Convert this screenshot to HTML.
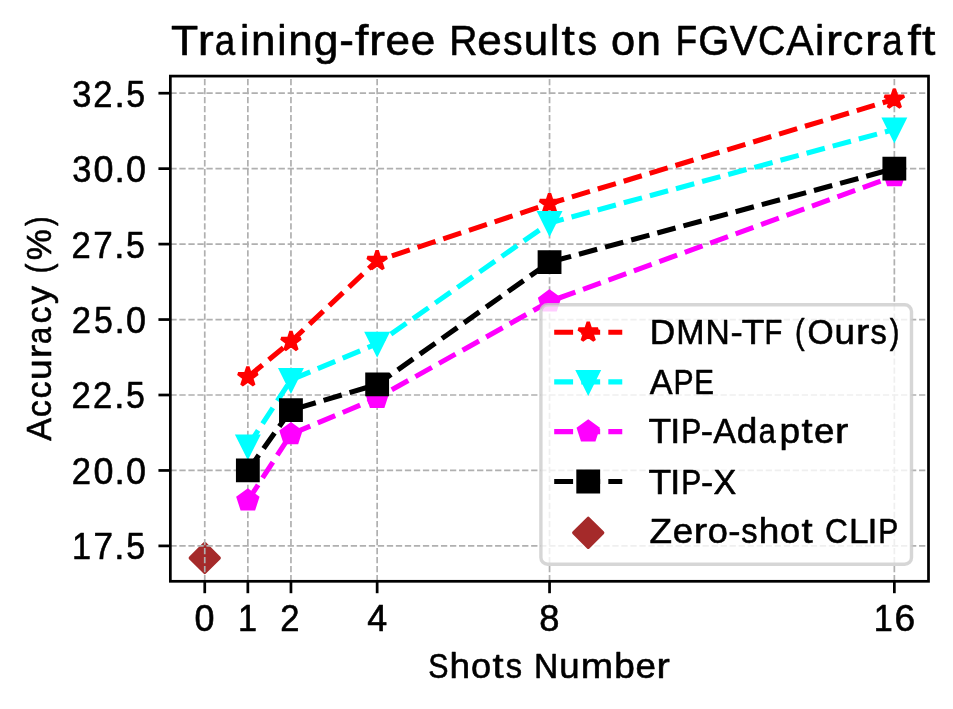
<!DOCTYPE html>
<html><head><meta charset="utf-8"><title>Training-free Results on FGVCAircraft</title>
<style>html,body{margin:0;padding:0;background:#fff;}svg{display:block;will-change:transform;transform:translateZ(0);}text{font-family:"Liberation Sans",sans-serif;fill:#000;stroke:#000;stroke-width:0.6px;stroke-linejoin:round;}</style></head><body>
<svg width="953" height="709" viewBox="0 0 953 709">
<rect x="0" y="0" width="953" height="709" fill="#ffffff"/>
<g id="zero"><polygon points="204.75,543.54 219.19,557.97 204.75,572.41 190.31,557.97" fill="#a52a2a" stroke="#a52a2a" stroke-width="3.40" stroke-linejoin="round"/></g>
<g id="grid" stroke="#b0b0b0" stroke-width="1.70" stroke-dasharray="6.30 2.72" fill="none"><line x1="204.75" y1="581.30" x2="204.75" y2="76.10"/><line x1="247.85" y1="581.30" x2="247.85" y2="76.10"/><line x1="290.95" y1="581.30" x2="290.95" y2="76.10"/><line x1="377.15" y1="581.30" x2="377.15" y2="76.10"/><line x1="549.55" y1="581.30" x2="549.55" y2="76.10"/><line x1="894.35" y1="581.30" x2="894.35" y2="76.10"/><line x1="170.35" y1="545.90" x2="928.50" y2="545.90"/><line x1="170.35" y1="470.45" x2="928.50" y2="470.45"/><line x1="170.35" y1="395.00" x2="928.50" y2="395.00"/><line x1="170.35" y1="319.55" x2="928.50" y2="319.55"/><line x1="170.35" y1="244.10" x2="928.50" y2="244.10"/><line x1="170.35" y1="168.65" x2="928.50" y2="168.65"/><line x1="170.35" y1="93.20" x2="928.50" y2="93.20"/></g>
<g id="dmn"><polyline points="247.85,376.89 290.95,341.58 377.15,260.70 549.55,203.66 894.35,99.24" fill="none" stroke="#ff0000" stroke-width="5.10" stroke-dasharray="18.89 8.17" stroke-linejoin="round"/>
<polygon points="247.85,366.68 245.56,373.74 238.14,373.74 244.14,378.10 241.85,385.15 247.85,380.79 253.85,385.15 251.56,378.10 257.56,373.74 250.14,373.74" fill="#ff0000" stroke="#ff0000" stroke-width="3.40" stroke-linejoin="bevel" stroke-miterlimit="10"/>
<polygon points="290.95,331.37 288.66,338.43 281.24,338.43 287.24,342.79 284.95,349.84 290.95,345.48 296.95,349.84 294.66,342.79 300.66,338.43 293.24,338.43" fill="#ff0000" stroke="#ff0000" stroke-width="3.40" stroke-linejoin="bevel" stroke-miterlimit="10"/>
<polygon points="377.15,250.49 374.86,257.54 367.44,257.54 373.44,261.90 371.15,268.96 377.15,264.60 383.15,268.96 380.86,261.90 386.86,257.54 379.44,257.54" fill="#ff0000" stroke="#ff0000" stroke-width="3.40" stroke-linejoin="bevel" stroke-miterlimit="10"/>
<polygon points="549.55,193.45 547.26,200.50 539.84,200.50 545.84,204.86 543.55,211.92 549.55,207.56 555.55,211.92 553.26,204.86 559.26,200.50 551.84,200.50" fill="#ff0000" stroke="#ff0000" stroke-width="3.40" stroke-linejoin="bevel" stroke-miterlimit="10"/>
<polygon points="894.35,89.03 892.06,96.08 884.64,96.08 890.64,100.44 888.35,107.49 894.35,103.14 900.35,107.49 898.06,100.44 904.06,96.08 896.64,96.08" fill="#ff0000" stroke="#ff0000" stroke-width="3.40" stroke-linejoin="bevel" stroke-miterlimit="10"/>
</g>
<g id="ape"><polyline points="247.85,446.31 290.95,379.91 377.15,343.69 549.55,222.97 894.35,129.42" fill="none" stroke="#00ffff" stroke-width="5.10" stroke-dasharray="18.89 8.17" stroke-linejoin="round"/>
<polygon points="237.64,436.10 258.06,436.10 247.85,456.51" fill="#00ffff" stroke="#00ffff" stroke-width="3.40" stroke-linejoin="miter" stroke-miterlimit="10"/>
<polygon points="280.74,369.70 301.16,369.70 290.95,390.12" fill="#00ffff" stroke="#00ffff" stroke-width="3.40" stroke-linejoin="miter" stroke-miterlimit="10"/>
<polygon points="366.94,333.49 387.36,333.49 377.15,353.90" fill="#00ffff" stroke="#00ffff" stroke-width="3.40" stroke-linejoin="miter" stroke-miterlimit="10"/>
<polygon points="539.34,212.77 559.76,212.77 549.55,233.18" fill="#00ffff" stroke="#00ffff" stroke-width="3.40" stroke-linejoin="miter" stroke-miterlimit="10"/>
<polygon points="884.14,119.21 904.56,119.21 894.35,139.62" fill="#00ffff" stroke="#00ffff" stroke-width="3.40" stroke-linejoin="miter" stroke-miterlimit="10"/>
</g>
<g id="tip"><polyline points="247.85,500.63 290.95,434.23 377.15,398.02 549.55,301.44 894.35,176.19" fill="none" stroke="#ff00ff" stroke-width="5.10" stroke-dasharray="18.89 8.17" stroke-linejoin="round"/>
<polygon points="247.85,490.42 238.14,497.48 241.85,508.89 253.85,508.89 257.56,497.48" fill="#ff00ff" stroke="#ff00ff" stroke-width="3.40" stroke-linejoin="miter" stroke-miterlimit="10"/>
<polygon points="290.95,424.03 281.24,431.08 284.95,442.49 296.95,442.49 300.66,431.08" fill="#ff00ff" stroke="#ff00ff" stroke-width="3.40" stroke-linejoin="miter" stroke-miterlimit="10"/>
<polygon points="377.15,387.81 367.44,394.86 371.15,406.28 383.15,406.28 386.86,394.86" fill="#ff00ff" stroke="#ff00ff" stroke-width="3.40" stroke-linejoin="miter" stroke-miterlimit="10"/>
<polygon points="549.55,291.23 539.84,298.29 543.55,309.70 555.55,309.70 559.26,298.29" fill="#ff00ff" stroke="#ff00ff" stroke-width="3.40" stroke-linejoin="miter" stroke-miterlimit="10"/>
<polygon points="894.35,165.99 884.64,173.04 888.35,184.45 900.35,184.45 904.06,173.04" fill="#ff00ff" stroke="#ff00ff" stroke-width="3.40" stroke-linejoin="miter" stroke-miterlimit="10"/>
</g>
<g id="tipx"><polyline points="247.85,470.45 290.95,410.09 377.15,384.44 549.55,262.21 894.35,168.65" fill="none" stroke="#000000" stroke-width="5.10" stroke-dasharray="18.89 8.17" stroke-linejoin="round"/>
<polygon points="237.64,460.24 258.06,460.24 258.06,480.66 237.64,480.66" fill="#000000" stroke="#000000" stroke-width="3.40" stroke-linejoin="miter" stroke-miterlimit="10"/>
<polygon points="280.74,399.88 301.16,399.88 301.16,420.30 280.74,420.30" fill="#000000" stroke="#000000" stroke-width="3.40" stroke-linejoin="miter" stroke-miterlimit="10"/>
<polygon points="366.94,374.23 387.36,374.23 387.36,394.65 366.94,394.65" fill="#000000" stroke="#000000" stroke-width="3.40" stroke-linejoin="miter" stroke-miterlimit="10"/>
<polygon points="539.34,252.00 559.76,252.00 559.76,272.42 539.34,272.42" fill="#000000" stroke="#000000" stroke-width="3.40" stroke-linejoin="miter" stroke-miterlimit="10"/>
<polygon points="884.14,158.44 904.56,158.44 904.56,178.86 884.14,178.86" fill="#000000" stroke="#000000" stroke-width="3.40" stroke-linejoin="miter" stroke-miterlimit="10"/>
</g>
<rect x="170.35" y="76.10" width="758.15" height="505.20" fill="none" stroke="#000" stroke-width="2.72" stroke-linejoin="miter"/>
<g id="ticks" stroke="#000" stroke-width="2.72"><line x1="204.75" y1="581.30" x2="204.75" y2="593.21"/><line x1="247.85" y1="581.30" x2="247.85" y2="593.21"/><line x1="290.95" y1="581.30" x2="290.95" y2="593.21"/><line x1="377.15" y1="581.30" x2="377.15" y2="593.21"/><line x1="549.55" y1="581.30" x2="549.55" y2="593.21"/><line x1="894.35" y1="581.30" x2="894.35" y2="593.21"/><line x1="170.35" y1="545.90" x2="158.44" y2="545.90"/><line x1="170.35" y1="470.45" x2="158.44" y2="470.45"/><line x1="170.35" y1="395.00" x2="158.44" y2="395.00"/><line x1="170.35" y1="319.55" x2="158.44" y2="319.55"/><line x1="170.35" y1="244.10" x2="158.44" y2="244.10"/><line x1="170.35" y1="168.65" x2="158.44" y2="168.65"/><line x1="170.35" y1="93.20" x2="158.44" y2="93.20"/></g>
<text transform="translate(0,55.20)" font-size="42.88" y="0"><tspan x="171.06" textLength="27.20" lengthAdjust="spacingAndGlyphs">T</tspan><tspan x="197.65" textLength="15.99" lengthAdjust="spacingAndGlyphs">r</tspan><tspan x="214.81" textLength="20.42" lengthAdjust="spacingAndGlyphs">a</tspan><tspan x="239.99" textLength="9.27" lengthAdjust="spacingAndGlyphs">i</tspan><tspan x="251.07" textLength="24.48" lengthAdjust="spacingAndGlyphs">n</tspan><tspan x="277.22" textLength="9.27" lengthAdjust="spacingAndGlyphs">i</tspan><tspan x="288.29" textLength="24.48" lengthAdjust="spacingAndGlyphs">n</tspan><tspan x="313.78" textLength="24.68" lengthAdjust="spacingAndGlyphs">g</tspan><tspan x="339.34" textLength="14.66" lengthAdjust="spacingAndGlyphs">-</tspan><tspan x="355.04" textLength="13.34" lengthAdjust="spacingAndGlyphs">f</tspan><tspan x="368.94" textLength="15.99" lengthAdjust="spacingAndGlyphs">r</tspan><tspan x="385.58" textLength="24.53" lengthAdjust="spacingAndGlyphs">e</tspan><tspan x="410.70" textLength="24.53" lengthAdjust="spacingAndGlyphs">e</tspan><tspan x="435.45"> </tspan><tspan x="449.23" textLength="28.20" lengthAdjust="spacingAndGlyphs">R</tspan><tspan x="477.18" textLength="24.53" lengthAdjust="spacingAndGlyphs">e</tspan><tspan x="503.05" textLength="19.57" lengthAdjust="spacingAndGlyphs">s</tspan><tspan x="523.81" textLength="24.48" lengthAdjust="spacingAndGlyphs">u</tspan><tspan x="550.11" textLength="9.27" lengthAdjust="spacingAndGlyphs">l</tspan><tspan x="561.63" textLength="13.34" lengthAdjust="spacingAndGlyphs">t</tspan><tspan x="577.55" textLength="19.57" lengthAdjust="spacingAndGlyphs">s</tspan><tspan x="597.70"> </tspan><tspan x="611.11" textLength="24.14" lengthAdjust="spacingAndGlyphs">o</tspan><tspan x="636.45" textLength="24.48" lengthAdjust="spacingAndGlyphs">n</tspan><tspan x="661.55"> </tspan><tspan x="675.66" textLength="21.38" lengthAdjust="spacingAndGlyphs">F</tspan><tspan x="698.30" textLength="30.98" lengthAdjust="spacingAndGlyphs">G</tspan><tspan x="729.79" textLength="27.64" lengthAdjust="spacingAndGlyphs">V</tspan><tspan x="757.96" textLength="27.37" lengthAdjust="spacingAndGlyphs">C</tspan><tspan x="786.34" textLength="27.44" lengthAdjust="spacingAndGlyphs">A</tspan><tspan x="815.09" textLength="9.27" lengthAdjust="spacingAndGlyphs">i</tspan><tspan x="825.90" textLength="15.99" lengthAdjust="spacingAndGlyphs">r</tspan><tspan x="842.68" textLength="20.49" lengthAdjust="spacingAndGlyphs">c</tspan><tspan x="865.14" textLength="15.99" lengthAdjust="spacingAndGlyphs">r</tspan><tspan x="882.30" textLength="20.42" lengthAdjust="spacingAndGlyphs">a</tspan><tspan x="907.43" textLength="13.34" lengthAdjust="spacingAndGlyphs">f</tspan><tspan x="922.01" textLength="13.34" lengthAdjust="spacingAndGlyphs">t</tspan></text>
<text transform="translate(0,559.30)" font-size="36.24" y="0"><tspan x="71.91" textLength="19.05" lengthAdjust="spacingAndGlyphs">1</tspan><tspan x="93.43" textLength="19.51" lengthAdjust="spacingAndGlyphs">7</tspan><tspan x="114.36" textLength="10.23" lengthAdjust="spacingAndGlyphs">.</tspan><tspan x="126.17" textLength="18.83" lengthAdjust="spacingAndGlyphs">5</tspan></text>
<text transform="translate(0,483.85)" font-size="36.24" y="0"><tspan x="71.80" textLength="19.23" lengthAdjust="spacingAndGlyphs">2</tspan><tspan x="93.54" textLength="19.95" lengthAdjust="spacingAndGlyphs">0</tspan><tspan x="114.63" textLength="10.23" lengthAdjust="spacingAndGlyphs">.</tspan><tspan x="126.01" textLength="19.95" lengthAdjust="spacingAndGlyphs">0</tspan></text>
<text transform="translate(0,408.40)" font-size="36.24" y="0"><tspan x="71.46" textLength="19.23" lengthAdjust="spacingAndGlyphs">2</tspan><tspan x="93.11" textLength="19.23" lengthAdjust="spacingAndGlyphs">2</tspan><tspan x="114.28" textLength="10.23" lengthAdjust="spacingAndGlyphs">.</tspan><tspan x="126.09" textLength="18.83" lengthAdjust="spacingAndGlyphs">5</tspan></text>
<text transform="translate(0,332.95)" font-size="36.24" y="0"><tspan x="71.75" textLength="19.23" lengthAdjust="spacingAndGlyphs">2</tspan><tspan x="93.92" textLength="18.83" lengthAdjust="spacingAndGlyphs">5</tspan><tspan x="114.58" textLength="10.23" lengthAdjust="spacingAndGlyphs">.</tspan><tspan x="125.96" textLength="19.95" lengthAdjust="spacingAndGlyphs">0</tspan></text>
<text transform="translate(0,257.50)" font-size="36.24" y="0"><tspan x="71.46" textLength="19.23" lengthAdjust="spacingAndGlyphs">2</tspan><tspan x="93.35" textLength="19.51" lengthAdjust="spacingAndGlyphs">7</tspan><tspan x="114.28" textLength="10.23" lengthAdjust="spacingAndGlyphs">.</tspan><tspan x="126.09" textLength="18.83" lengthAdjust="spacingAndGlyphs">5</tspan></text>
<text transform="translate(0,182.05)" font-size="36.24" y="0"><tspan x="72.33" textLength="19.16" lengthAdjust="spacingAndGlyphs">3</tspan><tspan x="93.54" textLength="19.95" lengthAdjust="spacingAndGlyphs">0</tspan><tspan x="114.63" textLength="10.23" lengthAdjust="spacingAndGlyphs">.</tspan><tspan x="126.01" textLength="19.95" lengthAdjust="spacingAndGlyphs">0</tspan></text>
<text transform="translate(0,106.60)" font-size="36.24" y="0"><tspan x="72.14" textLength="19.16" lengthAdjust="spacingAndGlyphs">3</tspan><tspan x="93.26" textLength="19.23" lengthAdjust="spacingAndGlyphs">2</tspan><tspan x="114.43" textLength="10.23" lengthAdjust="spacingAndGlyphs">.</tspan><tspan x="126.24" textLength="18.83" lengthAdjust="spacingAndGlyphs">5</tspan></text>
<text transform="translate(0,631.20)" font-size="36.24" y="0"><tspan x="194.58" textLength="19.95" lengthAdjust="spacingAndGlyphs">0</tspan></text>
<text transform="translate(0,631.20)" font-size="36.24" y="0"><tspan x="238.06" textLength="19.05" lengthAdjust="spacingAndGlyphs">1</tspan></text>
<text transform="translate(0,631.20)" font-size="36.24" y="0"><tspan x="280.34" textLength="19.23" lengthAdjust="spacingAndGlyphs">2</tspan></text>
<text transform="translate(0,631.20)" font-size="36.24" y="0"><tspan x="367.24" textLength="19.95" lengthAdjust="spacingAndGlyphs">4</tspan></text>
<text transform="translate(0,631.20)" font-size="36.24" y="0"><tspan x="539.32" textLength="20.17" lengthAdjust="spacingAndGlyphs">8</tspan></text>
<text transform="translate(0,631.20)" font-size="36.24" y="0"><tspan x="873.63" textLength="19.05" lengthAdjust="spacingAndGlyphs">1</tspan><tspan x="894.64" textLength="20.65" lengthAdjust="spacingAndGlyphs">6</tspan></text>
<text transform="translate(0,677.60)" font-size="35.73" y="0"><tspan x="428.31" textLength="20.23" lengthAdjust="spacingAndGlyphs">S</tspan><tspan x="449.58" textLength="20.55" lengthAdjust="spacingAndGlyphs">h</tspan><tspan x="470.97" textLength="20.12" lengthAdjust="spacingAndGlyphs">o</tspan><tspan x="492.44" textLength="11.12" lengthAdjust="spacingAndGlyphs">t</tspan><tspan x="505.71" textLength="16.31" lengthAdjust="spacingAndGlyphs">s</tspan><tspan x="522.50"> </tspan><tspan x="533.90" textLength="24.27" lengthAdjust="spacingAndGlyphs">N</tspan><tspan x="559.28" textLength="20.40" lengthAdjust="spacingAndGlyphs">u</tspan><tspan x="580.85" textLength="32.30" lengthAdjust="spacingAndGlyphs">m</tspan><tspan x="614.19" textLength="20.59" lengthAdjust="spacingAndGlyphs">b</tspan><tspan x="635.40" textLength="20.44" lengthAdjust="spacingAndGlyphs">e</tspan><tspan x="656.45" textLength="13.33" lengthAdjust="spacingAndGlyphs">r</tspan></text>
<text transform="translate(50.60,440.90) rotate(-90)" font-size="35.73" y="0"><tspan x="0.10" textLength="22.86" lengthAdjust="spacingAndGlyphs">A</tspan><tspan x="23.61" textLength="17.07" lengthAdjust="spacingAndGlyphs">c</tspan><tspan x="42.32" textLength="17.07" lengthAdjust="spacingAndGlyphs">c</tspan><tspan x="61.11" textLength="20.40" lengthAdjust="spacingAndGlyphs">u</tspan><tspan x="82.60" textLength="13.33" lengthAdjust="spacingAndGlyphs">r</tspan><tspan x="96.90" textLength="17.02" lengthAdjust="spacingAndGlyphs">a</tspan><tspan x="117.43" textLength="17.07" lengthAdjust="spacingAndGlyphs">c</tspan><tspan x="136.64" textLength="18.27" lengthAdjust="spacingAndGlyphs">y</tspan><tspan x="155.85"> </tspan><tspan x="167.78" textLength="9.64" lengthAdjust="spacingAndGlyphs">(</tspan><tspan x="180.58" textLength="31.07" lengthAdjust="spacingAndGlyphs">%</tspan><tspan x="214.81" textLength="9.64" lengthAdjust="spacingAndGlyphs">)</tspan></text>
<rect x="540.90" y="304.80" width="370.60" height="259.40" rx="6.8" ry="6.8" fill="#ffffff" fill-opacity="0.8" stroke="#cccccc" stroke-opacity="0.8" stroke-width="3.4"/>
<line x1="554.20" y1="332.20" x2="622.26" y2="332.20" stroke="#ff0000" stroke-width="5.10" stroke-dasharray="18.89 8.17"/>
<polygon points="588.23,321.99 585.94,329.05 578.52,329.05 584.52,333.40 582.23,340.46 588.23,336.10 594.23,340.46 591.94,333.40 597.94,329.05 590.52,329.05" fill="#ff0000" stroke="#ff0000" stroke-width="3.40" stroke-linejoin="bevel" stroke-miterlimit="10"/>
<line x1="554.20" y1="381.90" x2="622.26" y2="381.90" stroke="#00ffff" stroke-width="5.10" stroke-dasharray="18.89 8.17"/>
<polygon points="578.02,371.69 598.44,371.69 588.23,392.11" fill="#00ffff" stroke="#00ffff" stroke-width="3.40" stroke-linejoin="miter" stroke-miterlimit="10"/>
<line x1="554.20" y1="431.60" x2="622.26" y2="431.60" stroke="#ff00ff" stroke-width="5.10" stroke-dasharray="18.89 8.17"/>
<polygon points="588.23,421.39 578.52,428.45 582.23,439.86 594.23,439.86 597.94,428.45" fill="#ff00ff" stroke="#ff00ff" stroke-width="3.40" stroke-linejoin="miter" stroke-miterlimit="10"/>
<line x1="554.20" y1="481.50" x2="622.26" y2="481.50" stroke="#000000" stroke-width="5.10" stroke-dasharray="18.89 8.17"/>
<polygon points="578.02,471.29 598.44,471.29 598.44,491.71 578.02,491.71" fill="#000000" stroke="#000000" stroke-width="3.40" stroke-linejoin="miter" stroke-miterlimit="10"/>
<polygon points="588.23,518.36 602.67,532.80 588.23,547.24 573.79,532.80" fill="#a52a2a" stroke="#a52a2a" stroke-width="3.40" stroke-linejoin="round"/>
<text transform="translate(0,343.80)" font-size="35.73" y="0"><tspan x="649.83" textLength="25.42" lengthAdjust="spacingAndGlyphs">D</tspan><tspan x="676.13" textLength="28.26" lengthAdjust="spacingAndGlyphs">M</tspan><tspan x="705.52" textLength="24.27" lengthAdjust="spacingAndGlyphs">N</tspan><tspan x="730.42" textLength="12.22" lengthAdjust="spacingAndGlyphs">-</tspan><tspan x="741.73" textLength="22.67" lengthAdjust="spacingAndGlyphs">T</tspan><tspan x="764.40" textLength="17.82" lengthAdjust="spacingAndGlyphs">F</tspan><tspan x="783.03"> </tspan><tspan x="794.95" textLength="9.64" lengthAdjust="spacingAndGlyphs">(</tspan><tspan x="807.43" textLength="26.16" lengthAdjust="spacingAndGlyphs">O</tspan><tspan x="834.41" textLength="20.40" lengthAdjust="spacingAndGlyphs">u</tspan><tspan x="855.90" textLength="13.33" lengthAdjust="spacingAndGlyphs">r</tspan><tspan x="870.39" textLength="16.31" lengthAdjust="spacingAndGlyphs">s</tspan><tspan x="889.72" textLength="9.64" lengthAdjust="spacingAndGlyphs">)</tspan></text>
<text transform="translate(0,393.70)" font-size="35.73" y="0"><tspan x="649.66" textLength="22.86" lengthAdjust="spacingAndGlyphs">A</tspan><tspan x="673.61" textLength="20.07" lengthAdjust="spacingAndGlyphs">P</tspan><tspan x="694.17" textLength="19.67" lengthAdjust="spacingAndGlyphs">E</tspan></text>
<text transform="translate(0,443.30)" font-size="35.73" y="0"><tspan x="648.51" textLength="22.67" lengthAdjust="spacingAndGlyphs">T</tspan><tspan x="670.25" textLength="10.00" lengthAdjust="spacingAndGlyphs">I</tspan><tspan x="681.13" textLength="20.07" lengthAdjust="spacingAndGlyphs">P</tspan><tspan x="700.81" textLength="12.22" lengthAdjust="spacingAndGlyphs">-</tspan><tspan x="713.26" textLength="22.86" lengthAdjust="spacingAndGlyphs">A</tspan><tspan x="736.66" textLength="20.57" lengthAdjust="spacingAndGlyphs">d</tspan><tspan x="758.68" textLength="17.02" lengthAdjust="spacingAndGlyphs">a</tspan><tspan x="779.50" textLength="20.59" lengthAdjust="spacingAndGlyphs">p</tspan><tspan x="801.40" textLength="11.12" lengthAdjust="spacingAndGlyphs">t</tspan><tspan x="814.05" textLength="20.44" lengthAdjust="spacingAndGlyphs">e</tspan><tspan x="835.10" textLength="13.33" lengthAdjust="spacingAndGlyphs">r</tspan></text>
<text transform="translate(0,493.50)" font-size="35.73" y="0"><tspan x="648.63" textLength="22.67" lengthAdjust="spacingAndGlyphs">T</tspan><tspan x="670.37" textLength="10.00" lengthAdjust="spacingAndGlyphs">I</tspan><tspan x="681.26" textLength="20.07" lengthAdjust="spacingAndGlyphs">P</tspan><tspan x="700.94" textLength="12.22" lengthAdjust="spacingAndGlyphs">-</tspan><tspan x="713.43" textLength="22.71" lengthAdjust="spacingAndGlyphs">X</tspan></text>
<text transform="translate(0,543.10)" font-size="35.73" y="0"><tspan x="649.43" textLength="22.58" lengthAdjust="spacingAndGlyphs">Z</tspan><tspan x="672.71" textLength="20.44" lengthAdjust="spacingAndGlyphs">e</tspan><tspan x="693.76" textLength="13.33" lengthAdjust="spacingAndGlyphs">r</tspan><tspan x="707.67" textLength="20.12" lengthAdjust="spacingAndGlyphs">o</tspan><tspan x="728.16" textLength="12.22" lengthAdjust="spacingAndGlyphs">-</tspan><tspan x="741.35" textLength="16.31" lengthAdjust="spacingAndGlyphs">s</tspan><tspan x="758.67" textLength="20.55" lengthAdjust="spacingAndGlyphs">h</tspan><tspan x="780.06" textLength="20.12" lengthAdjust="spacingAndGlyphs">o</tspan><tspan x="801.53" textLength="11.12" lengthAdjust="spacingAndGlyphs">t</tspan><tspan x="813.87"> </tspan><tspan x="824.99" textLength="22.81" lengthAdjust="spacingAndGlyphs">C</tspan><tspan x="848.91" textLength="19.47" lengthAdjust="spacingAndGlyphs">L</tspan><tspan x="867.42" textLength="10.00" lengthAdjust="spacingAndGlyphs">I</tspan><tspan x="878.31" textLength="20.07" lengthAdjust="spacingAndGlyphs">P</tspan></text>
</svg></body></html>
